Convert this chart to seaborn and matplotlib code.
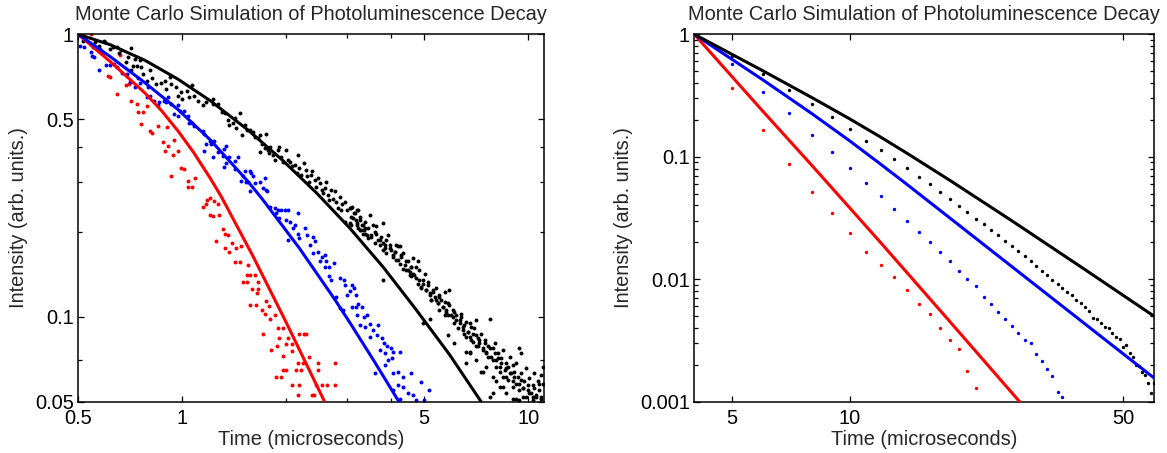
import matplotlib
matplotlib.use("Agg")
import matplotlib.pyplot as plt
import seaborn as sns
import pandas as pd
from matplotlib.ticker import FixedLocator, FixedFormatter, NullFormatter, NullLocator, LogLocator

# ---------------- data: left panel (Monte Carlo points) ----------------
left_red_pts = [
    (0.545, 1.0), (0.58, 0.887), (0.59, 0.855), (0.66, 0.847), (0.61, 0.713), (0.62, 0.708),
    (0.65, 0.614), (0.69, 0.66), (0.70, 0.667), (0.71, 0.58), (0.74, 0.565), (0.745, 0.53),
    (0.77, 0.53), (0.76, 0.483), (0.79, 0.555), (0.81, 0.455), (0.82, 0.447), (0.85, 0.474),
    (0.905, 0.468), (0.88, 0.414), (0.91, 0.402), (0.89, 0.387), (0.95, 0.422), (0.94, 0.374),
    (0.975, 0.387), (0.995, 0.337), (1.01, 0.334), (0.93, 0.316), (1.04, 0.303), (1.09, 0.31),
    (1.07, 0.288), (1.04, 0.288), (1.18, 0.259), (1.2, 0.263), (1.24, 0.256),
    (1.15, 0.245), (1.17, 0.25), (1.27, 0.25), (1.2, 0.229), (1.23, 0.228), (1.28, 0.229),
    (1.31, 0.204), (1.33, 0.197), (1.36, 0.194), (1.25, 0.186), (1.39, 0.183), (1.33, 0.175),
    (1.37, 0.170), (1.43, 0.175), (1.48, 0.178), (1.42, 0.156), (1.47, 0.156), (1.55, 0.152),
    (1.54, 0.140), (1.57, 0.140), (1.62, 0.140), (1.5, 0.133), (1.54, 0.133), (1.66, 0.133),
    (1.59, 0.125), (1.66, 0.125), (1.65, 0.121), (1.57, 0.110), (1.63, 0.110), (1.7, 0.106),
    (1.75, 0.114), (1.78, 0.109), (1.74, 0.102), (1.85, 0.101), (1.8, 0.098), (1.71, 0.087),
    (1.89, 0.091), (1.96, 0.091), (1.91, 0.084), (2.02, 0.084), (1.88, 0.079), (2.0, 0.080),
    (2.07, 0.080), (1.81, 0.0762), (1.95, 0.0725), (2.08, 0.0757), (2.18, 0.087), (2.25, 0.087),
    (2.28, 0.087), (2.16, 0.0684), (2.23, 0.0687), (2.33, 0.072), (2.47, 0.0684), (1.95, 0.0648),
    (1.99, 0.0648), (1.87, 0.061), (1.93, 0.061), (2.13, 0.0645), (2.21, 0.0645), (2.47, 0.0645),
    (2.08, 0.0573), (2.18, 0.0573), (2.43, 0.0573), (2.53, 0.0573), (2.62, 0.0573), (2.77, 0.0573),
    (2.76, 0.0684), (2.16, 0.053), (2.37, 0.053), (2.4, 0.053),
]

left_blue_pts = [
    (0.506, 0.91), (0.522, 0.90), (0.545, 0.865), (0.556, 0.83), (0.55, 0.84), (0.577, 0.747),
    (0.603, 0.78), (0.62, 0.78), (0.635, 0.785), (0.65, 0.765), (0.67, 0.73), (0.695, 0.725),
    (0.705, 0.675), (0.745, 0.70), (0.755, 0.67), (0.73, 0.65), (0.795, 0.65), (0.805, 0.606),
    (0.79, 0.60), (0.83, 0.58), (0.86, 0.575), (0.85, 0.56), (0.885, 0.58), (0.91, 0.60),
    (0.90, 0.575), (0.93, 0.565), (0.975, 0.56), (0.95, 0.52), (0.985, 0.536), (1.01, 0.536),
    (1.04, 0.515), (0.975, 0.515), (1.05, 0.485), (1.07, 0.485), (1.08, 0.474), (1.15, 0.455),
    (1.16, 0.443), (1.2, 0.42), (1.21, 0.41), (1.24, 0.42), (1.17, 0.41), (1.16, 0.387),
    (1.23, 0.367), (1.27, 0.382), (1.32, 0.393), (1.34, 0.403), (1.31, 0.37), (1.37, 0.367),
    (1.42, 0.355), (1.45, 0.367), (1.34, 0.35), (1.32, 0.34), (1.42, 0.334), (1.48, 0.303),
    (1.53, 0.30), (1.5, 0.314), (1.52, 0.327),
    (1.57, 0.327), (1.58, 0.322), (1.6, 0.314), (1.55, 0.30), (1.62, 0.297), (1.57, 0.278),
    (1.68, 0.30), (1.71, 0.285), (1.73, 0.309), (1.75, 0.281), (1.76, 0.278), (1.8, 0.245),
    (1.85, 0.242), (1.89, 0.239), (1.87, 0.233), (1.93, 0.239), (1.98, 0.239), (2.02, 0.239),
    (1.91, 0.223), (2.0, 0.22), (2.05, 0.217), (2.12, 0.211), (2.16, 0.233), (2.09, 0.206),
    (2.16, 0.197), (2.18, 0.19), (2.02, 0.187), (2.27, 0.206), (2.29, 0.194), (2.39, 0.191),
    (2.42, 0.185), (2.34, 0.18), (2.39, 0.168), (2.47, 0.17), (2.53, 0.163), (2.58, 0.166),
    (2.5, 0.157), (2.61, 0.157), (2.66, 0.150), (2.75, 0.155), (2.58, 0.150), (2.66, 0.139),
    (2.69, 0.135), (2.86, 0.137), (2.93, 0.135), (2.96, 0.129), (3.1, 0.129), (3.13, 0.126),
    (2.99, 0.119), (3.06, 0.123), (3.17, 0.119), (2.78, 0.117), (2.85, 0.107), (2.91, 0.1056),
    (3.1, 0.108), (3.17, 0.108), (3.23, 0.111), (3.3, 0.108), (3.2, 0.101), (3.36, 0.0995),
    (3.43, 0.101), (3.26, 0.0934), (3.38, 0.0922), (3.5, 0.0946), (3.56, 0.0897), (3.69, 0.0934),
    (3.48, 0.085), (3.65, 0.0862), (3.77, 0.084), (3.82, 0.0806), (3.9, 0.0785), (4.0, 0.0774),
    (3.74, 0.0762), (3.86, 0.0741), (4.08, 0.0752), (4.03, 0.0713), (3.93, 0.0703), (4.25, 0.0752),
    (3.6, 0.063), (3.86, 0.0675), (4.08, 0.063), (4.2, 0.0639), (4.34, 0.0614), (4.58, 0.063),
    (4.2, 0.0573), (4.34, 0.0565), (4.08, 0.055), (4.49, 0.0535), (4.64, 0.0528), (4.9, 0.0587),
    (5.17, 0.055), (4.74, 0.0507), (5.0, 0.0507), (4.25, 0.0513),
]

left_black_pts = [
    (0.517, 0.95), (0.552, 0.90), (0.563, 0.90), (0.577, 0.91), (0.595, 0.945), (0.617, 0.887),
    (0.63, 0.90), (0.65, 0.90), (0.667, 0.88), (0.655, 0.86), (0.71, 0.895), (0.696, 0.83),
    (0.73, 0.82), (0.755, 0.81), (0.69, 0.80), (0.72, 0.775), (0.74, 0.775), (0.71, 0.745),
    (0.76, 0.765), (0.77, 0.725), (0.805, 0.747), (0.79, 0.685), (0.82, 0.70), (0.84, 0.667),
    (0.87, 0.67), (0.89, 0.685), (0.92, 0.707), (0.90, 0.64), (0.93, 0.667), (0.96, 0.652),
    (0.975, 0.606), (0.995, 0.623), (1.03, 0.63), (1.07, 0.66), (1.05, 0.60), (1.08, 0.606),
    (1.0, 0.59), (1.11, 0.58), (1.15, 0.56), (1.17, 0.575), (1.23, 0.59), (1.23, 0.565),
    (1.27, 0.565), (0.56, 0.94), (0.60, 0.937),
    (1.3, 0.532), (1.33, 0.525), (1.36, 0.497), (1.37, 0.478), (1.4, 0.485), (1.42, 0.505),
    (1.47, 0.525), (1.43, 0.465), (1.49, 0.44), (1.52, 0.478), (1.54, 0.458), (1.57, 0.458),
    (1.6, 0.452), (1.62, 0.434), (1.66, 0.428), (1.68, 0.44), (1.7, 0.41), (1.75, 0.445),
    (1.73, 0.394), (1.77, 0.389), (1.8, 0.40), (1.68, 0.384), (1.78, 0.379), (1.83, 0.374),
    (1.85, 0.359), (1.89, 0.389), (1.91, 0.40), (1.93, 0.369), (1.95, 0.354), (2.0, 0.389),
    (2.02, 0.359), (2.05, 0.354), (2.07, 0.341), (2.12, 0.345), (2.16, 0.374), (2.18, 0.336),
    (2.14, 0.322), (2.21, 0.318), (2.25, 0.35), (2.28, 0.331), (2.3, 0.314), (2.35, 0.318),
    (2.33, 0.30), (2.38, 0.327), (2.42, 0.305), (2.47, 0.309), (2.44, 0.288), (2.5, 0.297),
    (2.53, 0.281), (2.56, 0.274), (2.58, 0.285), (2.61, 0.30), (2.64, 0.27), (2.66, 0.259),
    (2.69, 0.281), (2.72, 0.262), (2.76, 0.278), (2.78, 0.255), (2.85, 0.266), (2.82, 0.242),
    (2.87, 0.239), (2.9, 0.25), (2.96, 0.255), (2.99, 0.239), (3.05, 0.242), (3.1, 0.245),
    (3.08, 0.226), (3.13, 0.233), (3.17, 0.22), (3.2, 0.239), (3.26, 0.226), (3.3, 0.211),
    (3.23, 0.206), (3.36, 0.203), (3.38, 0.217), (3.42, 0.194),
    (3.08, 0.242), (3.15, 0.233), (3.12, 0.223), (3.22, 0.239), (3.05, 0.214), (3.19, 0.211),
    (3.26, 0.22), (3.33, 0.211), (3.29, 0.203), (3.37, 0.197), (3.44, 0.206), (3.48, 0.229),
    (3.56, 0.211), (3.6, 0.20), (3.52, 0.191), (3.64, 0.197), (3.68, 0.187), (3.76, 0.191),
    (3.81, 0.214), (3.72, 0.18), (3.81, 0.182), (3.85, 0.175), (3.89, 0.187), (3.94, 0.194),
    (3.98, 0.18), (4.02, 0.172), (4.07, 0.166), (4.11, 0.17), (4.16, 0.18), (4.2, 0.159),
    (4.25, 0.178), (4.3, 0.163), (4.34, 0.168), (4.39, 0.152), (4.44, 0.146), (4.49, 0.157),
    (4.54, 0.144), (4.59, 0.15), (4.64, 0.161), (4.69, 0.14), (4.74, 0.15), (4.59, 0.139),
    (3.81, 0.135), (4.79, 0.157), (4.85, 0.135), (4.9, 0.126), (4.95, 0.131), (5.02, 0.142),
    (5.07, 0.124), (5.13, 0.133), (5.19, 0.121), (5.24, 0.1146), (5.3, 0.124), (5.36, 0.117),
    (5.42, 0.126), (5.48, 0.112), (5.54, 0.119), (5.6, 0.1146), (5.67, 0.108), (5.73, 0.122),
    (5.79, 0.104), (5.85, 0.112), (5.92, 0.124), (5.54, 0.1056), (5.73, 0.101), (5.19, 0.0985),
    (4.95, 0.095), (5.99, 0.101), (6.05, 0.1056), (6.12, 0.095), (6.19, 0.101), (6.26, 0.091),
    (6.33, 0.0973), (6.4, 0.1025), (6.47, 0.0897), (6.54, 0.0934), (6.62, 0.085), (6.69, 0.0885),
    (6.77, 0.095), (6.84, 0.0827), (6.92, 0.087), (6.99, 0.091), (7.07, 0.0973), (7.15, 0.084),
    (7.23, 0.0806), (7.31, 0.087), (7.07, 0.0785), (6.77, 0.0752), (6.62, 0.0752), (7.4, 0.0774),
    (6.12, 0.0806), (5.85, 0.0862), (7.48, 0.0827), (7.56, 0.0741), (7.65, 0.0785), (7.73, 0.0985),
    (7.82, 0.072), (7.9, 0.0774), (7.99, 0.0806), (8.08, 0.0703), (8.17, 0.0741), (8.26, 0.0666),
    (8.35, 0.0713), (8.45, 0.0762), (8.54, 0.0648), (8.64, 0.0684), (8.73, 0.0666), (8.83, 0.072),
    (8.93, 0.063), (9.02, 0.0675), (9.12, 0.0639), (9.22, 0.0684), (9.02, 0.059), (8.64, 0.0614),
    (8.45, 0.0565), (8.08, 0.059), (7.9, 0.0535), (7.4, 0.0639), (7.73, 0.0521), (9.43, 0.0774),
    (9.54, 0.0741), (9.33, 0.0614), (9.43, 0.058), (9.54, 0.063), (9.64, 0.0558), (9.75, 0.059),
    (9.86, 0.0657), (9.97, 0.055), (10.08, 0.0605), (10.19, 0.0535), (10.3, 0.0573), (10.42, 0.063),
    (10.53, 0.0521), (10.65, 0.059), (10.77, 0.055), (10.88, 0.0521), (11.0, 0.0666), (10.88, 0.0622),
    (11.0, 0.058), (10.3, 0.0521), (9.64, 0.0521), (9.22, 0.0513),
    (2.95, 0.217), (3.08, 0.211), (3.19, 0.214), (3.26, 0.203), (3.33, 0.197), (3.37, 0.206),
    (3.44, 0.19), (3.52, 0.194), (3.6, 0.182), (3.64, 0.209), (3.72, 0.187), (3.81, 0.172),
    (3.85, 0.18), (3.89, 0.168), (3.98, 0.175), (4.07, 0.163), (4.11, 0.17), (4.16, 0.159),
    (4.2, 0.178), (4.25, 0.154), (4.3, 0.166), (4.34, 0.148), (4.44, 0.157), (4.49, 0.146),
    (4.54, 0.14), (4.59, 0.15), (4.64, 0.142), (4.74, 0.137), (4.79, 0.131), (4.85, 0.146),
    (4.9, 0.127), (4.95, 0.135), (5.07, 0.124), (5.13, 0.129), (5.19, 0.119), (5.24, 0.1146),
    (5.3, 0.122), (5.42, 0.1146), (5.48, 0.112), (5.54, 0.117), (5.67, 0.108), (5.73, 0.113),
    (5.79, 0.1056), (5.85, 0.101), (5.92, 0.11), (6.05, 0.0995), (6.12, 0.104), (6.19, 0.0973),
    (6.33, 0.095), (6.4, 0.0995), (6.47, 0.0922), (6.54, 0.087), (6.62, 0.096), (6.69, 0.0885),
    (6.77, 0.085), (6.84, 0.0922), (6.92, 0.0815), (7.07, 0.0862), (7.15, 0.0785), (7.23, 0.0827),
    (7.4, 0.0762), (7.48, 0.0806), (7.56, 0.0752), (7.65, 0.072), (7.73, 0.0774), (7.9, 0.0703),
    (7.99, 0.0741), (8.08, 0.0666), (8.17, 0.0713), (8.26, 0.0639), (8.35, 0.0684), (8.45, 0.0614),
    (8.64, 0.0657), (8.73, 0.0597), (8.83, 0.063), (9.02, 0.0565), (9.12, 0.0614), (9.22, 0.058),
    (9.43, 0.055), (9.54, 0.0597), (9.64, 0.0558), (9.86, 0.0521), (9.97, 0.0573), (10.08, 0.0535),
    (10.3, 0.0507), (10.42, 0.0558), (10.53, 0.0528), (10.77, 0.058), (10.88, 0.0513), (7.56, 0.0666),
    (7.31, 0.0639), (6.62, 0.0684), (7.9, 0.0614), (8.26, 0.0565), (8.64, 0.0535), (9.02, 0.0513),
    (9.43, 0.0507), (7.07, 0.0703), (6.77, 0.0741),
]

# ---------------- data: left panel (model curves) ----------------
left_black_line_t = [0.5, 0.62, 0.78, 0.975, 1.21, 1.55, 1.95, 2.44, 3.05, 3.81, 4.74, 5.92, 7.31]
left_black_line_i = [1.0, 0.918, 0.809, 0.692, 0.580, 0.458, 0.358, 0.275, 0.206, 0.1498, 0.106, 0.0735, 0.05]
left_blue_line_t = [0.5, 0.62, 0.78, 0.975, 1.21, 1.55, 1.70, 2.18, 2.75, 3.05, 3.6, 4.23]
left_blue_line_i = [1.0, 0.833, 0.674, 0.540, 0.421, 0.301, 0.262, 0.175, 0.1159, 0.0954, 0.0691, 0.05]
left_red_line_t = [0.5, 0.62, 0.78, 0.87, 0.975, 1.08, 1.21, 1.3, 1.6, 2.0, 2.58]
left_red_line_i = [1.0, 0.80, 0.62, 0.538, 0.453, 0.381, 0.307, 0.265, 0.1643, 0.0952, 0.05]

# ---------------- data: right panel ----------------
right_black_t = [5, 6, 7, 8, 9, 10, 11, 12, 13, 14, 15, 16, 17, 18, 19, 20, 21, 22, 23, 24, 25, 26,
                 27, 28, 29, 30, 31, 32, 33, 34, 35, 36, 37, 38, 39, 40, 41, 42, 43, 44, 45, 46, 47,
                 48, 49, 50, 51, 52, 53, 54, 55, 56, 57, 58, 59, 60]
right_black_i = [0.665, 0.474, 0.351, 0.268, 0.211, 0.169, 0.135, 0.114, 0.0954, 0.0815, 0.0688,
                 0.060, 0.0513, 0.045, 0.0399, 0.0356, 0.031, 0.0281, 0.0252, 0.0231, 0.0205,
                 0.0187, 0.0170, 0.0155, 0.0140, 0.0128, 0.01175, 0.0108, 0.00986, 0.0091, 0.00845,
                 0.00787, 0.0074, 0.00678, 0.00637, 0.0059, 0.0055, 0.00481, 0.00474, 0.00437,
                 0.00406, 0.00398, 0.00362, 0.00336, 0.00327, 0.00282, 0.00292, 0.0025, 0.00231,
                 0.00199, 0.00194, 0.00176, 0.00166, 0.00141, 0.00117, 0.00143]
right_blue_t = [5, 6, 7, 8, 9, 10, 11, 12, 13, 14, 15, 16, 17, 18, 19, 20, 21, 22, 23, 24, 25, 26,
                27, 28, 29, 30, 31, 32, 33, 34, 35]
right_blue_i = [0.569, 0.338, 0.226, 0.151, 0.109, 0.0805, 0.061, 0.0476, 0.0375, 0.0301, 0.0243,
                0.0201, 0.0166, 0.0142, 0.0117, 0.01005, 0.00877, 0.00721, 0.00629, 0.00544,
                0.00471, 0.00418, 0.00362, 0.00318, 0.00304, 0.00243, 0.00214, 0.00185, 0.00162,
                0.0012, 0.00109]
right_red_t = [5, 6, 7, 8, 9, 10, 11, 12, 13, 14, 15, 16, 17, 18, 19, 20, 21]
right_red_i = [0.367, 0.166, 0.0868, 0.0519, 0.0346, 0.0239, 0.0166, 0.0130, 0.0105, 0.00813,
               0.00632, 0.00518, 0.00398, 0.00319, 0.00271, 0.00178, 0.0013]

right_black_line_t = [4, 6, 8, 10, 11.93, 14, 18, 25.9, 40, 60]
right_black_line_i = [1.0, 0.502, 0.304, 0.2036, 0.1461, 0.1069, 0.0644, 0.0302, 0.01197, 0.0050]
right_blue_line_t = [4, 6, 8, 10, 11.93, 14, 18, 25, 40, 60]
right_blue_line_i = [1.0, 0.423, 0.2248, 0.1346, 0.0881, 0.0595, 0.03176, 0.01396, 0.00431, 0.001565]
right_red_line_t = [4, 6, 8, 11.93, 18, 27.2]
right_red_line_i = [1.0, 0.234, 0.0849, 0.0203, 0.00454, 0.001]

TITLE = "Monte Carlo Simulation of Photoluminescence Decay"
XLABEL = "Time (microseconds)"
YLABEL = "Intensity (arb. units.)"

# ---------------- style ----------------
sns.set_style("ticks")
plt.rcParams["font.family"] = ["Liberation Sans", "DejaVu Sans"]
FS = 14.4

fig = plt.figure(figsize=(11.67, 4.53), dpi=100)
ax1 = fig.add_axes([0.0668, 0.1132, 0.3993, 0.8112])
ax2 = fig.add_axes([0.5949, 0.1132, 0.3939, 0.8112])

RED, BLUE, BLACK = "#ff0000", "#0000ff", "#000000"


def pts_df(pts):
    return pd.DataFrame(pts, columns=["t", "i"])


# left panel
for pts, col in [(left_red_pts, RED), (left_blue_pts, BLUE), (left_black_pts, BLACK)]:
    sns.scatterplot(data=pts_df(pts), x="t", y="i", color=col, s=8, linewidth=0,
                    ax=ax1, legend=False, zorder=2)
for tt, ii, col in [(left_red_line_t, left_red_line_i, RED),
                    (left_blue_line_t, left_blue_line_i, BLUE),
                    (left_black_line_t, left_black_line_i, BLACK)]:
    sns.lineplot(x=tt, y=ii, color=col, lw=2.2, sort=False, estimator=None,
                 ax=ax1, legend=False, zorder=3)

# right panel
for tt, ii, col in [(right_red_t, right_red_i, RED), (right_blue_t, right_blue_i, BLUE),
                    (right_black_t, right_black_i, BLACK)]:
    sns.scatterplot(x=tt, y=ii, color=col, s=6, linewidth=0, ax=ax2, legend=False, zorder=2)
for tt, ii, col in [(right_red_line_t, right_red_line_i, RED),
                    (right_blue_line_t, right_blue_line_i, BLUE),
                    (right_black_line_t, right_black_line_i, BLACK)]:
    sns.lineplot(x=tt, y=ii, color=col, lw=2.2, sort=False, estimator=None,
                 ax=ax2, legend=False, zorder=3)

for ax in (ax1, ax2):
    ax.set_xscale("log")
    ax.set_yscale("log")

ax1.set_xlim(0.5, 11.1)
ax1.set_ylim(0.05, 1)
ax1.xaxis.set_major_locator(FixedLocator([0.5, 1, 5, 10]))
ax1.xaxis.set_major_formatter(FixedFormatter(["0.5", "1", "5", "10"]))
ax1.xaxis.set_minor_locator(FixedLocator([2, 3, 4]))
ax1.xaxis.set_minor_formatter(NullFormatter())
ax1.yaxis.set_major_locator(FixedLocator([0.05, 0.1, 0.5, 1]))
ax1.yaxis.set_major_formatter(FixedFormatter(["0.05", "0.1", "0.5", "1"]))
ax1.yaxis.set_minor_locator(FixedLocator([0.07, 0.2, 0.3, 0.4]))
ax1.yaxis.set_minor_formatter(NullFormatter())

ax2.set_xlim(4, 60)
ax2.set_ylim(0.001, 1)
ax2.xaxis.set_major_locator(FixedLocator([5, 10, 50]))
ax2.xaxis.set_major_formatter(FixedFormatter(["5", "10", "50"]))
ax2.xaxis.set_minor_locator(NullLocator())
ax2.yaxis.set_major_locator(FixedLocator([0.001, 0.01, 0.1, 1]))
ax2.yaxis.set_major_formatter(FixedFormatter(["0.001", "0.01", "0.1", "1"]))
ax2.yaxis.set_minor_locator(LogLocator(base=10, subs=[2, 3, 4, 5, 6, 7, 8, 9]))
ax2.yaxis.set_minor_formatter(NullFormatter())

for ax in (ax1, ax2):
    ax.tick_params(which="both", direction="in", top=True, right=True, colors="black",
                   labelsize=FS, width=0.9)
    ax.tick_params(which="major", length=4.5)
    ax.tick_params(which="minor", length=3)
    ax.tick_params(axis="x", which="major", pad=5)
    ax.tick_params(axis="y", which="major", pad=3)
    for sp in ax.spines.values():
        sp.set_visible(True)
        sp.set_linewidth(1.1)
        sp.set_color("black")
    ax.set_title(TITLE, fontsize=FS, pad=10)
    ax.set_xlabel(XLABEL, fontsize=FS, labelpad=2)
    ax.set_ylabel(YLABEL, fontsize=FS, labelpad=5)
    ax.set_facecolor("white")

fig.savefig("out.png", dpi=100, facecolor="white")
